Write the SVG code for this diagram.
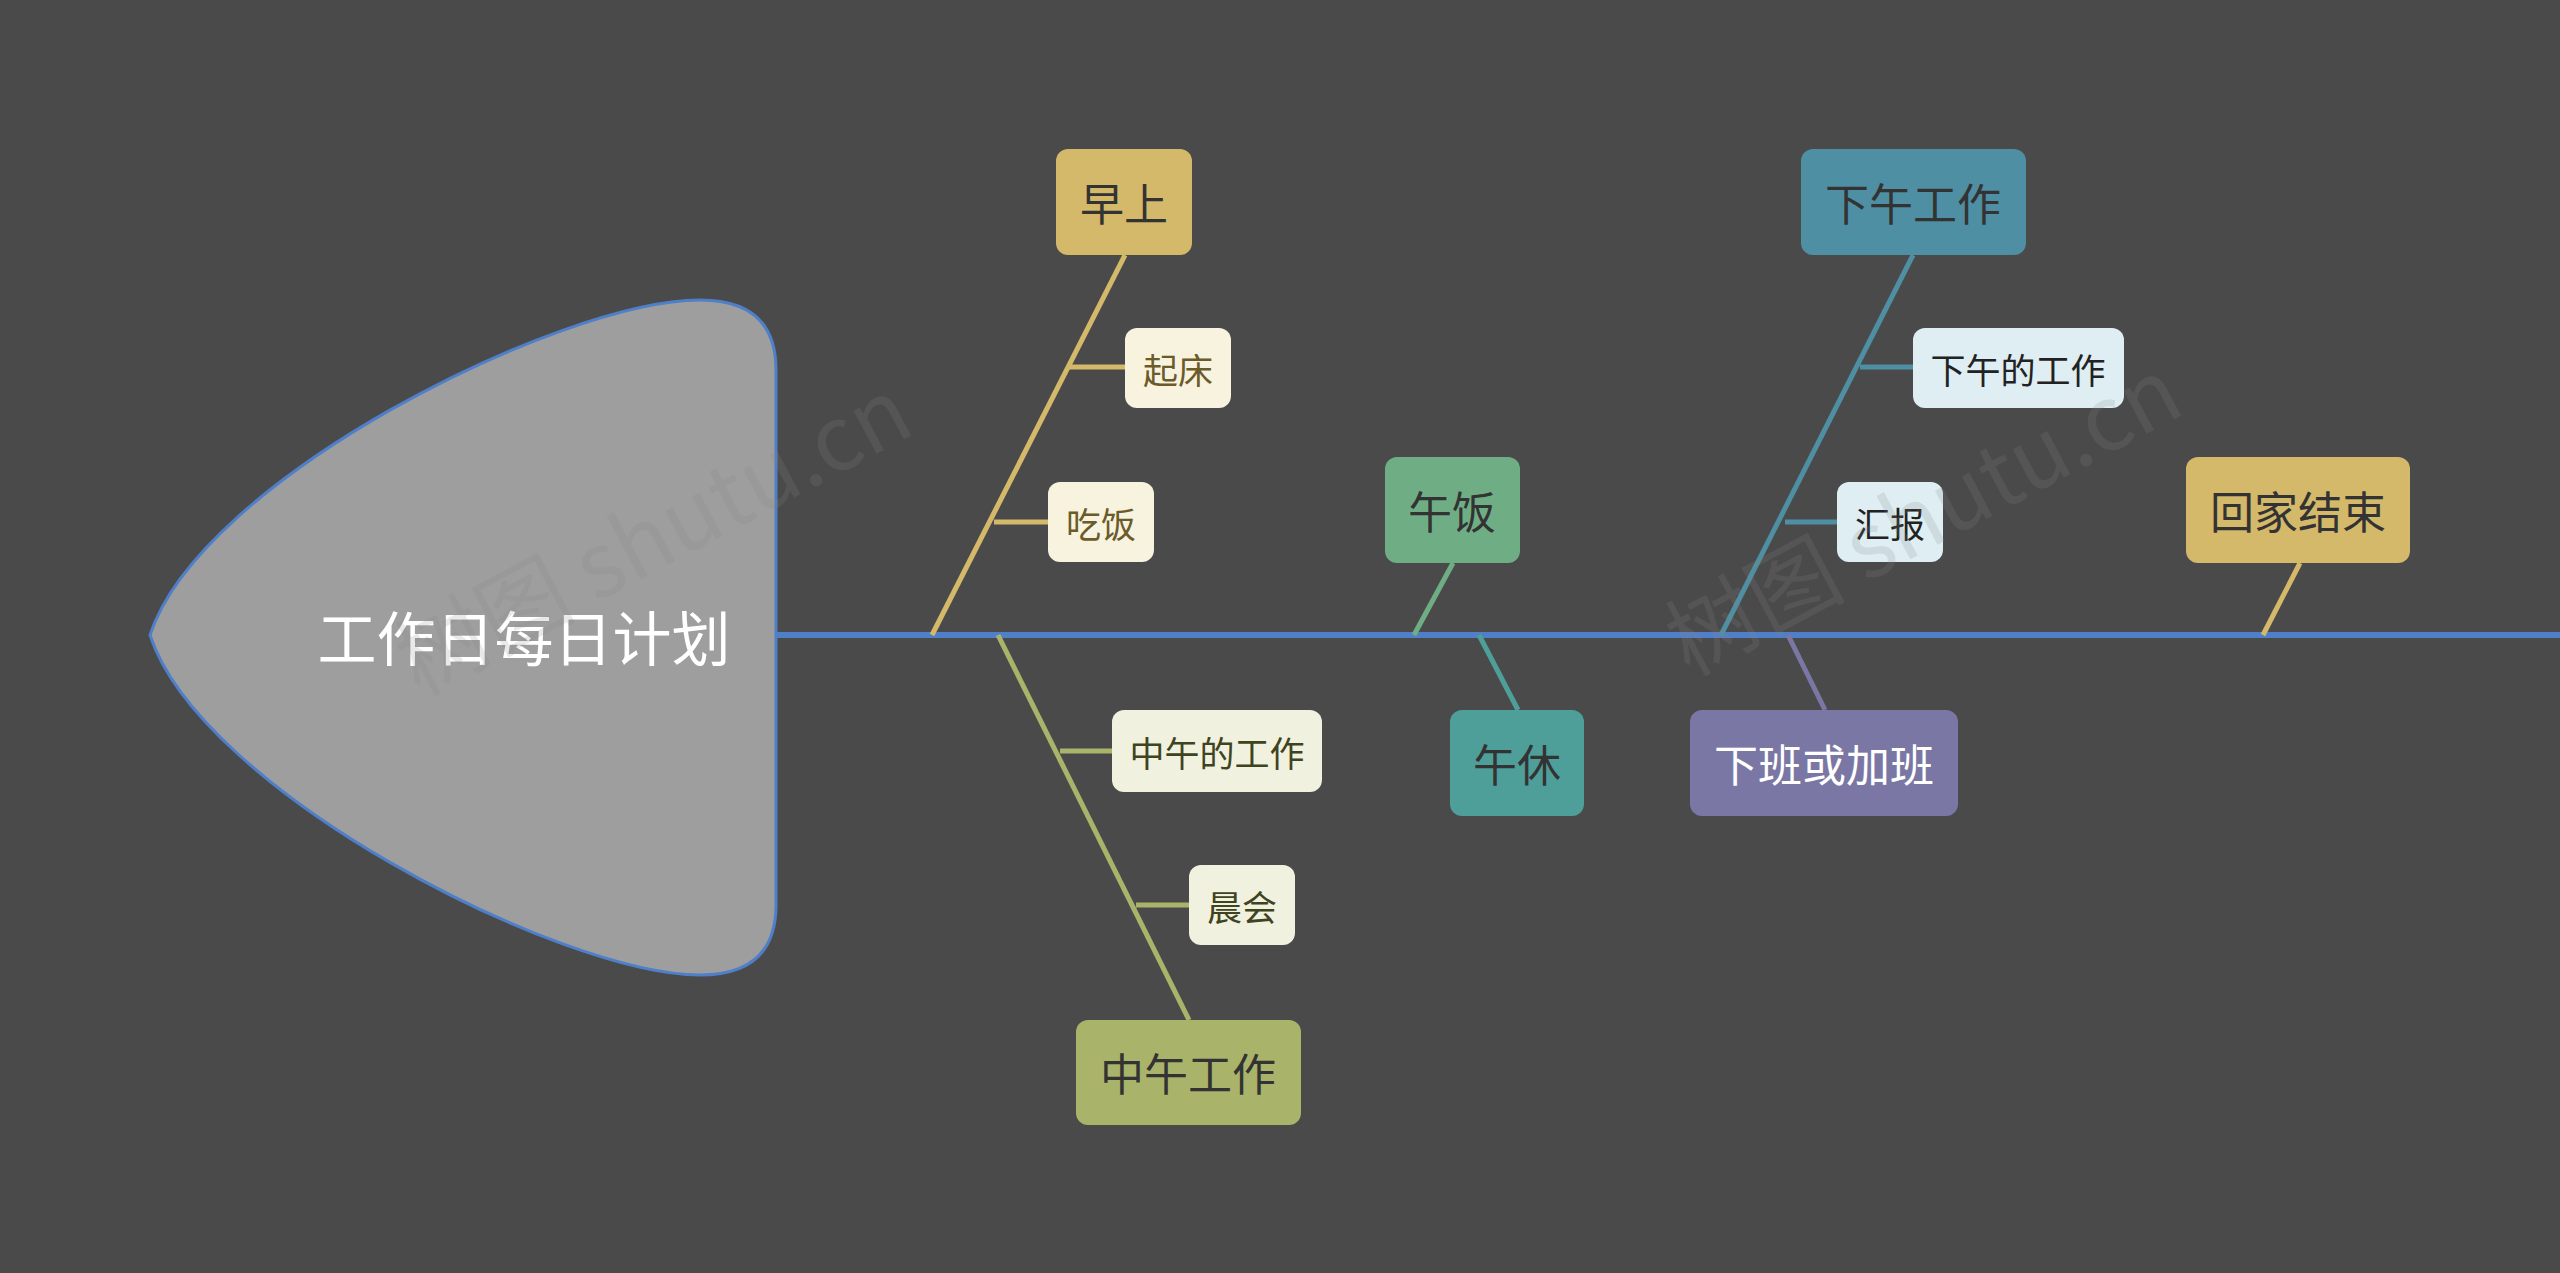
<svg xmlns="http://www.w3.org/2000/svg" width="2560" height="1273" viewBox="0 0 2560 1273">
<style>
text{font-family:"Noto Sans CJK SC","Liberation Sans",sans-serif;text-anchor:middle;dominant-baseline:central}
.m{font-size:44px;fill:#333}
.s{font-size:35px}
.ln{fill:none;stroke-width:5}
.wm{font-size:90px;fill:#888;opacity:0.18}
</style>
<rect width="2560" height="1273" fill="#4a4a4a"/>
<g id="connectors">
<line x1="776" y1="635" x2="2560" y2="635" stroke="#4f7fc9" stroke-width="6"/>
<g stroke="#d4b96a" class="ln"><line x1="1125" y1="255" x2="932" y2="635"/><line x1="1069" y1="367" x2="1125" y2="367"/><line x1="994" y1="522" x2="1048" y2="522"/></g>
<g stroke="#a9b46a" class="ln"><line x1="998" y1="635" x2="1189" y2="1020"/><line x1="1060" y1="751" x2="1112" y2="751"/><line x1="1136" y1="905" x2="1189" y2="905"/></g>
<line class="ln" stroke="#6fae85" x1="1414" y1="635" x2="1453" y2="563"/>
<line class="ln" stroke="#4e9f99" x1="1479" y1="635" x2="1518" y2="710"/>
<g stroke="#4e8fa3" class="ln"><line x1="1913" y1="255" x2="1721" y2="635"/><line x1="1860" y1="367" x2="1913" y2="367"/><line x1="1785" y1="522" x2="1837" y2="522"/></g>
<line class="ln" stroke="#7a77a5" x1="1788" y1="635" x2="1825" y2="710"/>
<line class="ln" stroke="#d4b96a" x1="2263" y1="635" x2="2300" y2="563"/>
</g>
<g id="head">
<path d="M150 635 C200 480 560 300 700 300 Q776 300 776 370 L776 905 Q776 975 700 975 C560 975 200 790 150 635 Z" fill="#9e9e9e" stroke="#4f7fc9" stroke-width="3"/>
<text x="524" y="635" font-size="59" fill="#fff">工作日每日计划</text>
</g>
<g id="n1"><rect x="1056" y="149" width="136" height="106" rx="12" fill="#d4b96a"/><text class="m" x="1124" y="202">早上</text></g>
<g id="n1a"><rect x="1125" y="328" width="106" height="80" rx="12" fill="#f7f3df"/><text class="s" x="1178" y="368" fill="#6b5a2a">起床</text></g>
<g id="n1b"><rect x="1048" y="482" width="106" height="80" rx="12" fill="#f7f3df"/><text class="s" x="1101" y="522" fill="#6b5a2a">吃饭</text></g>
<g id="n2"><rect x="1076" y="1020" width="225" height="105" rx="12" fill="#a9b46a"/><text class="m" x="1188" y="1072">中午工作</text></g>
<g id="n2a"><rect x="1112" y="710" width="210" height="82" rx="12" fill="#f1f1e0"/><text class="s" x="1217" y="751" fill="#3f4420">中午的工作</text></g>
<g id="n2b"><rect x="1189" y="865" width="106" height="80" rx="12" fill="#f1f1e0"/><text class="s" x="1242" y="905" fill="#3f4420">晨会</text></g>
<g id="n3"><rect x="1385" y="457" width="135" height="106" rx="12" fill="#6fae85"/><text class="m" x="1452" y="510">午饭</text></g>
<g id="n4"><rect x="1450" y="710" width="134" height="106" rx="12" fill="#4e9f99"/><text class="m" x="1517" y="763">午休</text></g>
<g id="n5"><rect x="1801" y="149" width="225" height="106" rx="12" fill="#4e8fa3"/><text class="m" x="1913" y="202">下午工作</text></g>
<g id="n5a"><rect x="1913" y="328" width="211" height="80" rx="12" fill="#deeef2"/><text class="s" x="2018" y="368" fill="#222">下午的工作</text></g>
<g id="n5b"><rect x="1837" y="482" width="106" height="80" rx="12" fill="#deeef2"/><text class="s" x="1890" y="522" fill="#222">汇报</text></g>
<g id="n6"><rect x="1690" y="710" width="268" height="106" rx="12" fill="#7a77a5"/><text class="m" x="1824" y="763" style="fill:#fff">下班或加班</text></g>
<g id="n7"><rect x="2186" y="457" width="224" height="106" rx="12" fill="#d4b96a"/><text class="m" x="2298" y="510">回家结束</text></g>
<g id="watermarks">
<text class="wm" x="650" y="530" transform="rotate(-28 650 530)">树图 shutu.cn</text>
<text class="wm" x="1920" y="510" transform="rotate(-28 1920 510)">树图 shutu.cn</text>
</g>
</svg>
